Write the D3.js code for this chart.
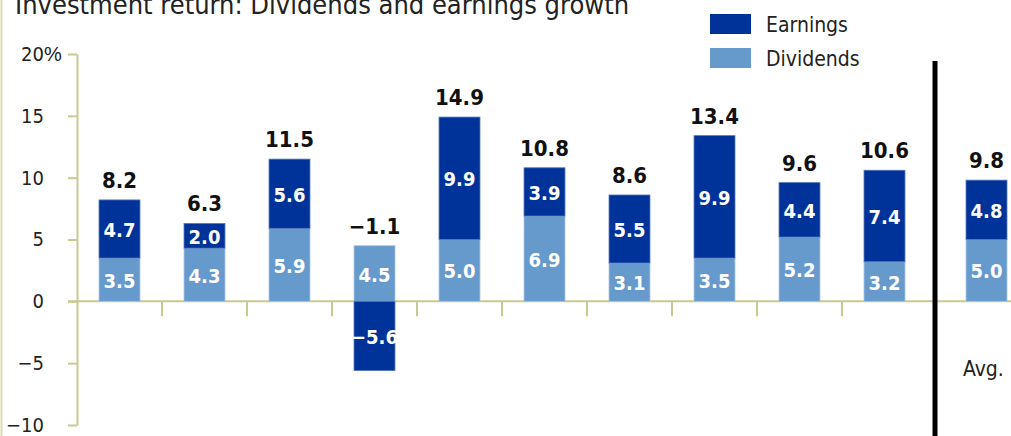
<!DOCTYPE html>
<html>
<head>
<meta charset="utf-8">
<script src="https://cdn.jsdelivr.net/npm/d3@7"></script>
<style>
  html, body { margin: 0; padding: 0; background: #fff; }
  svg { display: block; font-family: "DejaVu Sans Condensed", "Liberation Sans Narrow", sans-serif; }
</style>
</head>
<body>
<svg id="chart" width="1011" height="436"></svg>
<script>
// data
const periods = ["p1", "p2", "p3", "p4", "p5", "p6", "p7", "p8", "p9", "p10"];
const dividends = [3.5, 4.3, 5.9, 4.5, 5.0, 6.9, 3.1, 3.5, 5.2, 3.2];
const earnings = [4.7, 2.0, 5.6, -5.6, 9.9, 3.9, 5.5, 9.9, 4.4, 7.4];
const totals = [8.2, 6.3, 11.5, -1.1, 14.9, 10.8, 8.6, 13.4, 9.6, 10.6];
const avgLabel = "Avg.";
const avgDividends = 5.0;
const avgEarnings = 4.8;
const avgTotal = 9.8;
const yTicks = [-10, -5, 0, 5, 10, 15, 20];
const title = "Investment return: Dividends and earnings growth";
const seriesNames = ["Earnings", "Dividends"];

const colEarn = "#00339a", colDiv = "#6699cc", olive = "#c9c992";
const svg = d3.select("#chart");

const y = d3.scaleLinear([-10, 20], [425, 54]);
const x = d3.scaleBand(periods, [77, 927]).paddingInner(0.518).paddingOuter(0.259);
const xAvg = d3.scaleBand([avgLabel], [944, 1029]).paddingInner(0.518).paddingOuter(0.259);

const fmt = v => (v < 0 ? "\u2212" : "") + Math.abs(v).toFixed(1);

// left frame line
svg.append("line").attr("x1", 1.5).attr("x2", 1.5).attr("y1", 0).attr("y2", 436)
  .attr("stroke", "#dcdcae").attr("stroke-width", 2);

// title (cropped at top, like the original)
svg.append("text").attr("x", 15).attr("y", 14)
  .attr("font-size", 27).attr("fill", "#222").text(title);

// y axis
const gy = svg.append("g").attr("transform", "translate(77,0)")
  .call(d3.axisLeft(y).tickValues(yTicks).tickSize(9).tickSizeOuter(0).tickPadding(24)
    .tickFormat(d => d < 0 ? "\u2212" + Math.abs(d) : d));
gy.selectAll("path, line").attr("stroke", olive).attr("stroke-width", 2);
gy.selectAll("text").attr("font-size", 20).attr("fill", "#222")
  .attr("font-family", "DejaVu Sans Condensed, sans-serif");
gy.selectAll(".tick").filter(d => d === 20).append("text")
  .attr("x", -33).attr("dy", "0.32em").attr("text-anchor", "start")
  .attr("font-size", 20).attr("fill", "#222").text("%");

// zero line + category ticks
svg.append("line").attr("x1", 68).attr("x2", 1011).attr("y1", y(0)).attr("y2", y(0))
  .attr("stroke", olive).attr("stroke-width", 2);
svg.selectAll(".ctick").data(periods.slice(1)).join("line")
  .attr("x1", d => x(d) - (x.step() - x.bandwidth()) / 2)
  .attr("x2", d => x(d) - (x.step() - x.bandwidth()) / 2)
  .attr("y1", y(0)).attr("y2", y(0) + 15)
  .attr("stroke", olive).attr("stroke-width", 2);

// bars
const rows = periods.map((p, i) => ({ key: p, div: dividends[i], earn: earnings[i], tot: totals[i], sc: x }));
rows.push({ key: avgLabel, div: avgDividends, earn: avgEarnings, tot: avgTotal, sc: xAvg });

const g = svg.append("g");
rows.forEach(r => {
  const bx = r.sc(r.key), bw = r.sc.bandwidth(), cx = bx + bw / 2;
  const e0 = r.earn >= 0 ? r.div : 0, e1 = r.earn >= 0 ? r.div + r.earn : r.earn;
  g.append("rect").attr("x", bx).attr("width", bw)
    .attr("y", y(r.div)).attr("height", y(0) - y(r.div))
    .attr("fill", colDiv).attr("stroke", "#a9c6e6").attr("stroke-width", 0.8);
  g.append("rect").attr("x", bx).attr("width", bw)
    .attr("y", y(Math.max(e0, e1))).attr("height", Math.abs(y(e0) - y(e1)))
    .attr("fill", colEarn).attr("stroke", "#5577bb").attr("stroke-width", 0.8);
  g.append("text").attr("x", cx).attr("y", y(r.div / 2) + 8)
    .attr("text-anchor", "middle").attr("font-size", 20).attr("font-weight", "bold")
    .attr("fill", "#fff").text(fmt(r.div));
  g.append("text").attr("x", cx).attr("y", y((e0 + e1) / 2) + 8)
    .attr("text-anchor", "middle").attr("font-size", 20).attr("font-weight", "bold")
    .attr("fill", "#fff").text(fmt(r.earn));
  const top = Math.max(r.div, r.div + r.earn);
  g.append("text").attr("x", cx).attr("y", y(top) - 12)
    .attr("text-anchor", "middle").attr("font-size", 22).attr("font-weight", "bold")
    .attr("fill", "#111").text(fmt(r.tot));
});

// avg label and divider
svg.append("text").attr("x", 963).attr("y", 376)
  .attr("font-size", 21).attr("fill", "#222").text(avgLabel);
svg.append("line").attr("x1", 935).attr("x2", 935).attr("y1", 61).attr("y2", 436)
  .attr("stroke", "#000").attr("stroke-width", 5);

// legend
const lg = svg.append("g").attr("transform", "translate(710,14)");
[colEarn, colDiv].forEach((c, i) => {
  lg.append("rect").attr("x", 0).attr("y", i * 34).attr("width", 41).attr("height", 20).attr("fill", c);
  lg.append("text").attr("x", 56).attr("y", i * 34 + 18).attr("font-size", 21)
    .attr("fill", "#222").text(seriesNames[i]);
});
</script>
</body>
</html>
